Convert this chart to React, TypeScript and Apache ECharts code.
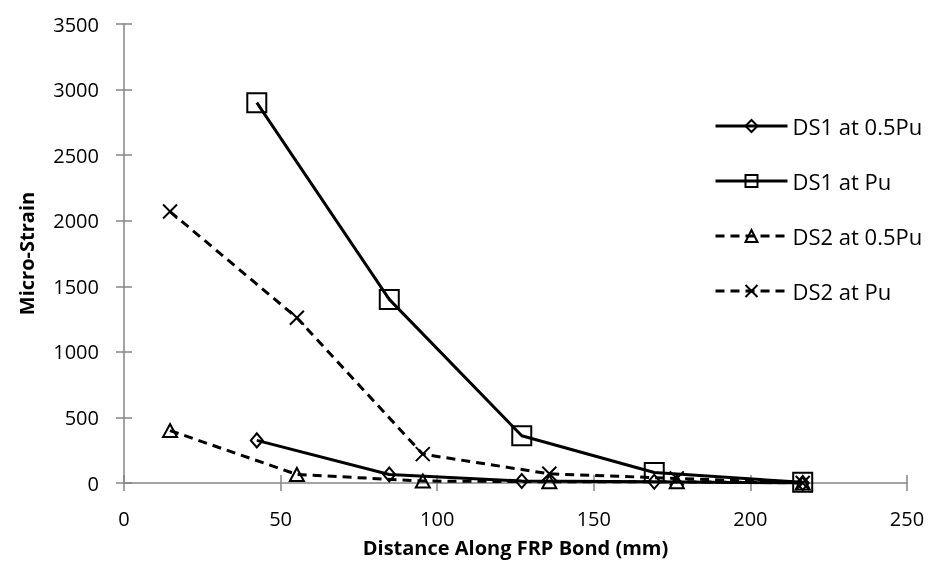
import React, { useEffect, useRef } from "react";
import * as echarts from "echarts";

const ds1Half: [number, number][] = [[42.4, 325], [84.7, 65], [127, 15], [169.3, 10], [216.7, 0]];
const ds1Pu: [number, number][] = [[42.4, 2900], [84.7, 1400], [127, 360], [169.3, 80], [216.7, 5]];
const ds2Half: [number, number][] = [[14.7, 400], [55.2, 65], [95.4, 15], [135.8, 10], [176.5, 10], [216.7, 0]];
const ds2Pu: [number, number][] = [[14.7, 2070], [55.2, 1260], [95.4, 220], [135.8, 70], [176.5, 35], [216.7, 0]];
const seriesNames = ["DS1 at 0.5Pu", "DS1 at Pu", "DS2 at 0.5Pu", "DS2 at Pu"];
const xTitle = "Distance Along FRP Bond (mm)";
const yTitle = "Micro-Strain";

const FONT = "'Open Sans', 'Noto Sans', sans-serif";
const AXIS_GRAY = "#868686";

export default function App() {
  const ref = useRef<HTMLDivElement>(null);
  useEffect(() => {
    if (!ref.current) return;
    const chart = echarts.init(ref.current, undefined, { renderer: "svg" });
    const mk = (name: string, data: [number, number][], symbol: string, size: number | number[], dashed: boolean) => ({
      name,
      type: "line",
      data,
      symbol,
      symbolSize: size,
      showAllSymbol: true,
      xAxisIndex: 0,
      yAxisIndex: 0,
      lineStyle: { color: "#000", width: 3, type: dashed ? [9, 6] : "solid" },
      itemStyle: { color: "rgba(0,0,0,0)", borderColor: "#000", borderWidth: 2 },
      emphasis: { disabled: true },
    });
    const xBase = { type: "value", min: 0, max: 250, interval: 50, gridIndex: 0 };
    const yBase = { type: "value", min: 0, max: 3500, interval: 500, gridIndex: 0 };
    chart.setOption({
      animation: false,
      grid: { left: 124, right: 22, top: 24, bottom: 80, containLabel: false },
      xAxis: [
        {
          ...xBase,
          position: "bottom",
          name: xTitle,
          nameLocation: "middle",
          nameGap: 54,
          nameTextStyle: { fontFamily: FONT, fontSize: 20, fontWeight: "bold", color: "#000" },
          axisLine: { show: true, onZero: false, lineStyle: { color: AXIS_GRAY, width: 1.5 } },
          axisTick: { show: true, inside: false, length: 8, lineStyle: { color: AXIS_GRAY, width: 1.5 } },
          axisLabel: { fontFamily: FONT, fontSize: 20, color: "#000", margin: 25 },
          splitLine: { show: false },
        },
        {
          ...xBase,
          position: "bottom",
          axisLine: { show: false, onZero: false },
          axisTick: { show: true, inside: true, length: 8, lineStyle: { color: AXIS_GRAY, width: 1.5 } },
          axisLabel: { show: false },
          splitLine: { show: false },
        },
      ],
      yAxis: [
        {
          ...yBase,
          position: "left",
          name: yTitle,
          nameLocation: "middle",
          nameGap: 88,
          nameTextStyle: { fontFamily: FONT, fontSize: 20, fontWeight: "bold", color: "#000" },
          axisLine: { show: true, onZero: false, lineStyle: { color: AXIS_GRAY, width: 1.5 } },
          axisTick: { show: true, inside: false, length: 8, lineStyle: { color: AXIS_GRAY, width: 1.5 } },
          axisLabel: { fontFamily: FONT, fontSize: 20, color: "#000", margin: 25, formatter: (v: number) => String(v) },
          splitLine: { show: false },
        },
        {
          ...yBase,
          position: "left",
          axisLine: { show: false, onZero: false },
          axisTick: { show: true, inside: true, length: 8, lineStyle: { color: AXIS_GRAY, width: 1.5 } },
          axisLabel: { show: false },
          splitLine: { show: false },
        },
      ],
      legend: {
        orient: "vertical",
        left: 709,
        top: 109,
        itemWidth: 72,
        itemHeight: 15,
        itemGap: 31,
        data: seriesNames,
        lineStyle: { width: 3 },
        itemStyle: { borderWidth: 2 },
        textStyle: { fontFamily: FONT, fontSize: 22, color: "#000", lineHeight: 24 },
      },
      series: [
        mk(seriesNames[0], ds1Half, "diamond", [12, 14], false),
        mk(seriesNames[1], ds1Pu, "rect", 19, false),
        mk(seriesNames[2], ds2Half, "triangle", [14, 13], true),
        mk(seriesNames[3], ds2Pu, "path://M0,0L10,10M10,0L0,10", 14, true),
      ],
    });
    return () => chart.dispose();
  }, []);
  return <div ref={ref} style={{ position: "fixed", left: 0, top: 0, width: 929, height: 563 }} />;
}
